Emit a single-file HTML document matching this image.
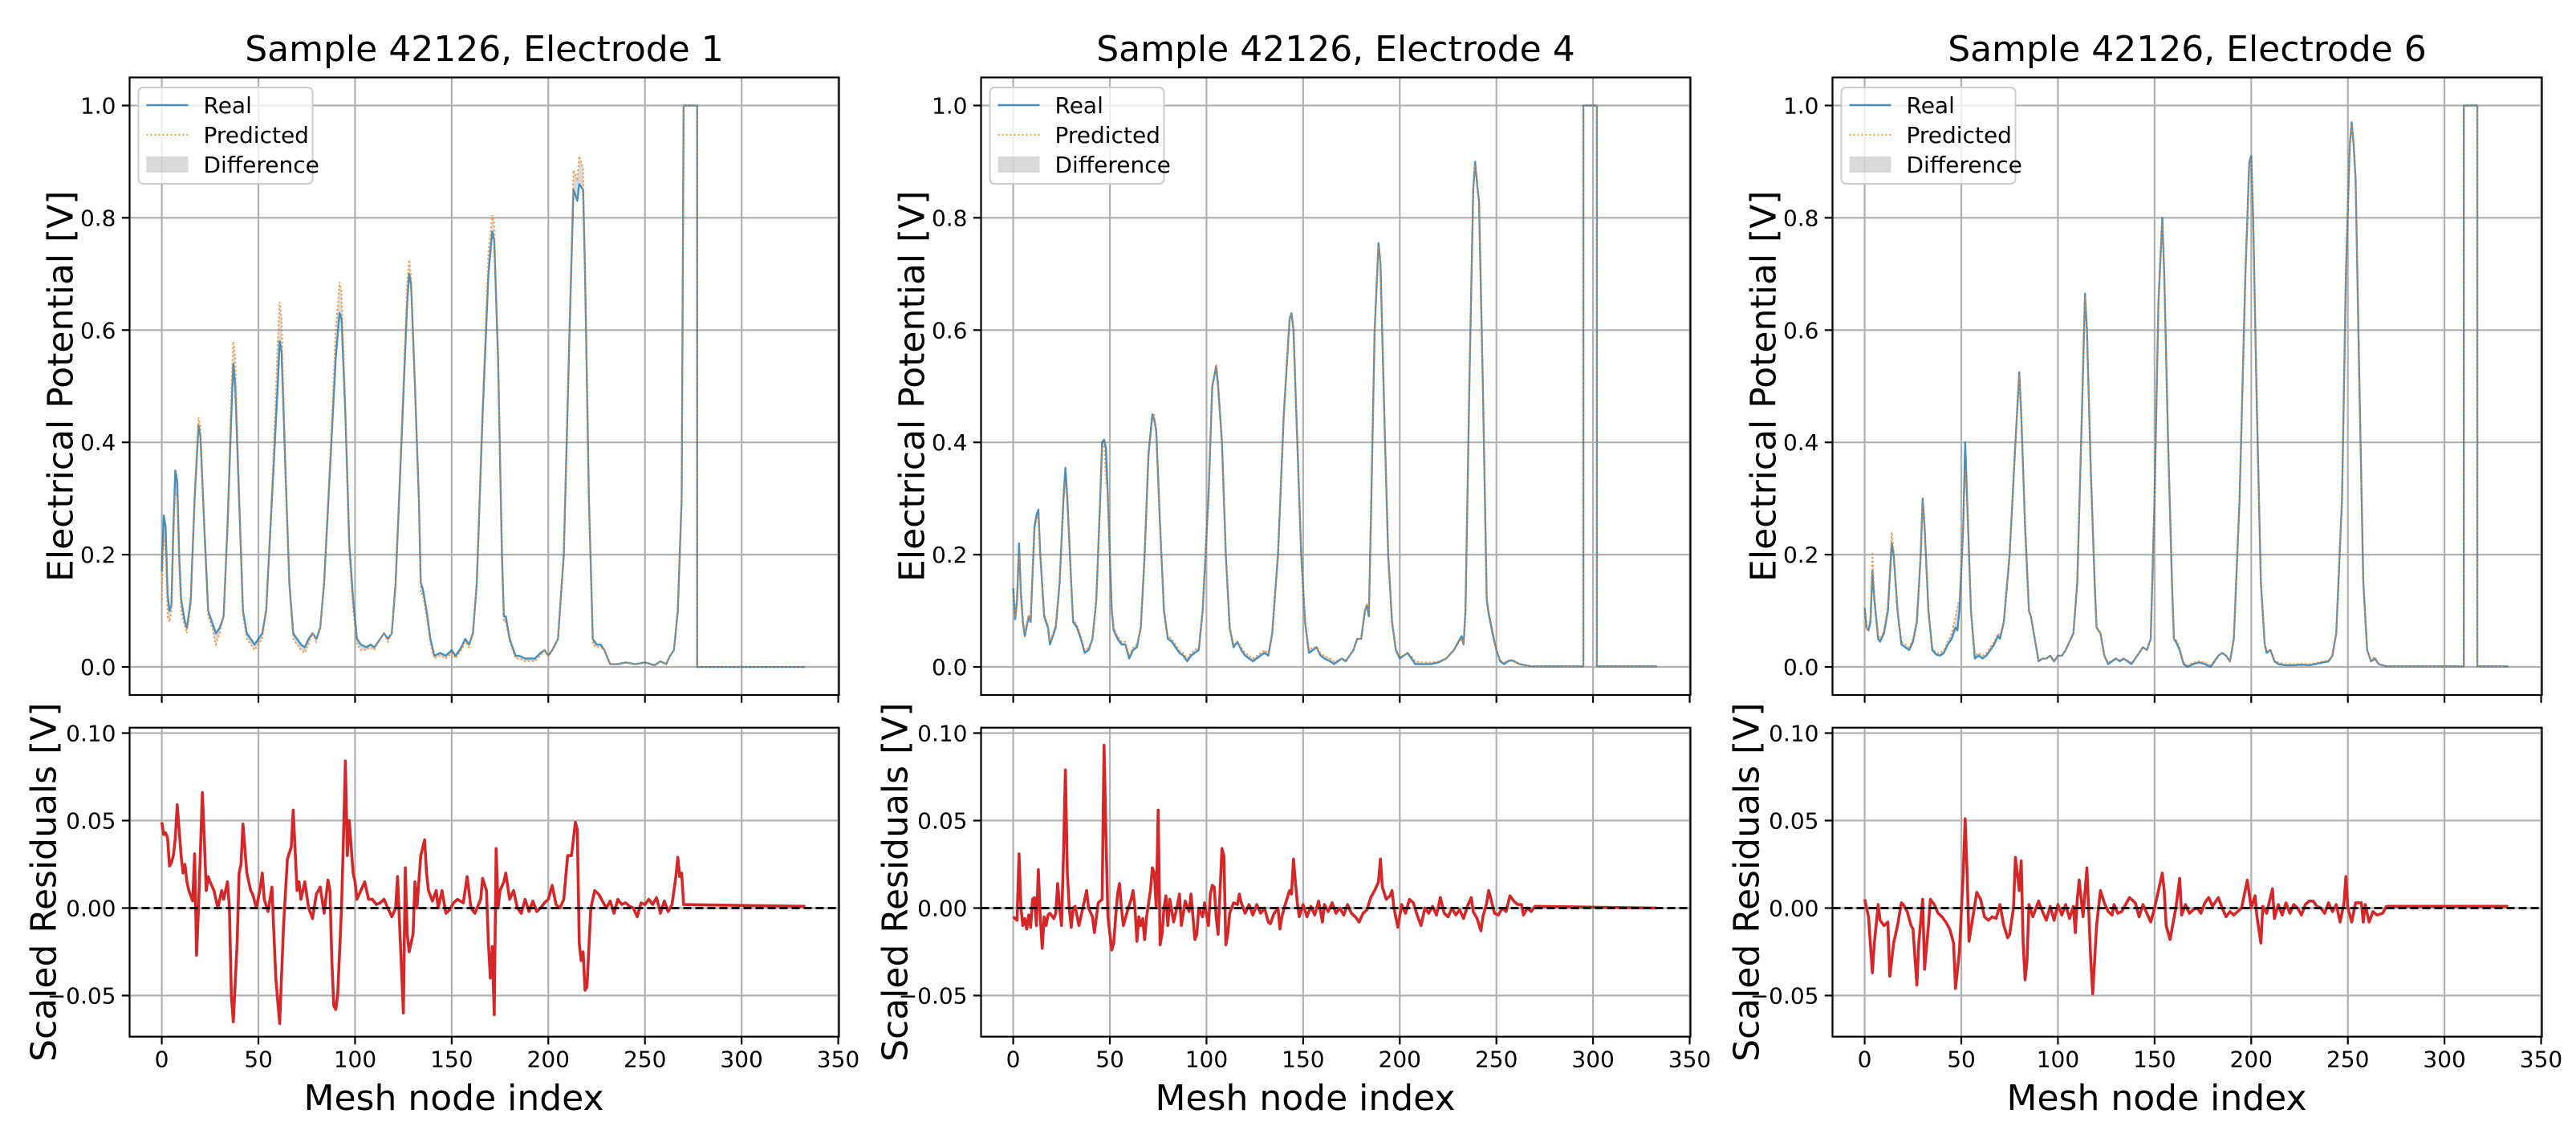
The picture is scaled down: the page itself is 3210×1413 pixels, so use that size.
<!DOCTYPE html>
<html>
<head>
<meta charset="utf-8">
<style>
html,body{margin:0;padding:0;background:#fff;}
svg{display:block;font-family:"DejaVu Sans","Liberation Sans",sans-serif;}
</style>
</head>
<body>
<svg id="fig" xmlns="http://www.w3.org/2000/svg" width="3210" height="1413" viewBox="0 0 3210 1413">
<rect x="0" y="0" width="3210" height="1413" fill="#fff"/>
</svg>
<script>
// ---------- data ----------
const panelTitles = ["Sample 42126, Electrode 1", "Sample 42126, Electrode 4", "Sample 42126, Electrode 6"];
const xTicks = [0, 50, 100, 150, 200, 250, 300, 350];
const yTicksTop = [0.0, 0.2, 0.4, 0.6, 0.8, 1.0];
const yTickLabelsTop = ["0.0", "0.2", "0.4", "0.6", "0.8", "1.0"];
const yTicksBot = [-0.05, 0.00, 0.05, 0.10];
const yTickLabelsBot = ["\u22120.05", "0.00", "0.05", "0.10"];

const e1Nodes = [0,1,2,3,4,5,6,7,8,9,10,12,13,15,17,19,20,22,24,26,28,30,32,34,36,37,38,40,42,44,46,48,50,52,54,57,60,61,62,64,66,68,70,72,74,76,78,80,82,84,87,90,92,93,95,97,99,101,103,106,108,110,113,115,117,119,121,124,127,128,129,131,133,134,135,137,139,141,144,147,150,152,155,157,159,161,163,166,169,171,172,174,176,177,178,180,183,185,188,190,193,196,198,200,202,205,208,211,213,215,216,218,219,221,223,225,227,229,232,236,240,245,250,255,258,261,263,265,267,269,270,277,277,333];
const e1Real = [.17,.27,.25,.13,.10,.11,.25,.35,.33,.20,.12,.08,.07,.12,.30,.43,.41,.25,.10,.08,.06,.07,.09,.25,.45,.54,.50,.30,.10,.06,.05,.04,.05,.06,.10,.30,.50,.58,.56,.35,.15,.06,.05,.04,.035,.05,.06,.05,.07,.15,.35,.55,.63,.62,.45,.22,.12,.05,.04,.035,.04,.035,.05,.06,.05,.06,.15,.40,.65,.70,.68,.50,.30,.15,.14,.10,.05,.02,.025,.02,.03,.02,.035,.05,.04,.06,.15,.45,.70,.775,.76,.55,.20,.09,.09,.05,.02,.02,.015,.015,.015,.025,.03,.02,.03,.05,.20,.60,.85,.83,.86,.85,.70,.30,.05,.04,.04,.03,.005,.005,.008,.005,.008,.003,.01,.005,.02,.03,.10,.30,1,1,0,0];
const e1Pred = [.12,.23,.20,.09,.08,.10,.22,.31,.30,.17,.10,.07,.06,.11,.31,.445,.43,.24,.09,.07,.04,.06,.09,.26,.50,.58,.55,.32,.09,.05,.04,.03,.04,.05,.10,.32,.58,.65,.62,.36,.14,.05,.04,.03,.025,.04,.06,.045,.07,.15,.37,.60,.685,.67,.47,.20,.10,.04,.03,.03,.035,.03,.05,.06,.045,.06,.15,.42,.69,.725,.70,.50,.30,.13,.13,.09,.04,.015,.02,.015,.025,.015,.03,.045,.035,.06,.15,.47,.74,.805,.79,.56,.18,.08,.08,.045,.015,.015,.01,.01,.01,.02,.03,.02,.03,.05,.20,.62,.885,.87,.91,.89,.72,.30,.04,.035,.035,.03,.005,.005,.008,.005,.008,.003,.01,.005,.02,.03,.10,.30,1,1,0,0];

const e4Nodes = [0,1,2,3,4,5,6,8,9,11,12,13,14,16,18,19,21,22,24,26,27,28,30,31,33,35,37,39,41,43,45,46,47,48,49,51,52,54,56,58,60,62,64,66,68,70,72,73,74,76,78,80,82,84,86,88,90,92,94,96,98,101,103,105,106,108,110,112,114,116,118,120,122,124,126,128,130,132,134,137,140,143,144,145,147,149,151,153,155,157,159,161,164,166,168,170,172,174,176,178,180,182,183,184,185,187,189,190,192,194,196,198,200,202,204,206,208,212,216,220,224,228,232,233,234,236,238,239,240,241,243,245,246,248,250,252,254,256,258,262,268,295,295,302,302,333];
const e4Real = [.14,.085,.12,.22,.13,.08,.055,.09,.08,.25,.27,.28,.2,.09,.07,.04,.06,.07,.15,.3,.355,.3,.15,.08,.07,.05,.025,.03,.05,.12,.3,.4,.405,.39,.3,.1,.065,.05,.04,.04,.015,.03,.035,.07,.2,.38,.45,.44,.42,.25,.1,.05,.045,.035,.025,.02,.01,.02,.025,.03,.1,.3,.5,.535,.5,.4,.2,.07,.035,.045,.03,.02,.015,.01,.015,.02,.025,.02,.06,.2,.45,.62,.63,.6,.4,.2,.08,.025,.03,.035,.02,.015,.01,.005,.01,.015,.01,.02,.03,.05,.05,.1,.11,.09,.25,.6,.755,.72,.45,.2,.08,.03,.015,.02,.025,.015,.005,.005,.005,.008,.015,.03,.055,.04,.1,.5,.85,.9,.86,.83,.5,.12,.095,.06,.03,.01,.005,.01,.012,.005,.001,.001,1,1,.001,.001];
const e4Pred = [.13,.09,.11,.2,.12,.08,.06,.09,.085,.24,.26,.27,.2,.095,.075,.045,.065,.075,.15,.29,.33,.29,.15,.085,.075,.055,.03,.035,.05,.12,.29,.39,.4,.33,.31,.1,.07,.055,.045,.045,.02,.035,.04,.07,.2,.37,.44,.45,.41,.25,.1,.055,.05,.04,.03,.025,.015,.025,.03,.035,.1,.3,.5,.54,.51,.4,.2,.07,.04,.045,.035,.025,.02,.015,.02,.025,.03,.025,.06,.2,.45,.62,.625,.6,.4,.2,.08,.03,.035,.035,.025,.02,.015,.01,.012,.015,.012,.02,.03,.05,.05,.1,.11,.095,.25,.6,.75,.72,.45,.2,.08,.03,.02,.02,.025,.02,.01,.008,.008,.01,.015,.03,.05,.04,.1,.5,.85,.895,.87,.83,.5,.12,.1,.065,.03,.012,.008,.012,.012,.005,.001,.001,1,1,.001,.001];

const e6Nodes = [0,1,2,3,4,5,7,8,10,12,14,15,17,19,21,23,25,27,29,30,31,33,35,37,39,41,43,45,47,48,49,51,52,53,55,57,59,61,63,65,67,69,70,72,75,78,80,81,83,85,86,88,90,92,94,96,98,100,102,104,106,108,110,112,114,115,117,119,120,122,124,126,128,130,132,134,136,138,140,142,144,146,148,150,152,154,155,157,159,160,161,163,165,167,170,173,176,179,181,183,185,187,189,191,194,197,199,200,201,203,205,207,208,210,212,214,218,222,226,230,233,237,240,242,244,247,249,251,252,253,254,256,258,260,262,264,266,270,310,310,317,317,333];
const e6Real = [.105,.07,.065,.08,.17,.12,.05,.045,.06,.1,.22,.2,.1,.04,.035,.03,.045,.08,.2,.3,.25,.1,.03,.022,.02,.025,.04,.05,.07,.065,.1,.25,.4,.3,.1,.015,.02,.015,.02,.03,.04,.055,.05,.08,.2,.4,.525,.45,.25,.1,.09,.05,.01,.015,.015,.02,.01,.02,.02,.03,.045,.06,.15,.4,.665,.6,.35,.15,.07,.06,.02,.005,.01,.015,.01,.015,.01,.005,.015,.025,.035,.03,.05,.3,.65,.8,.7,.4,.15,.05,.045,.03,.005,0,.005,.008,.005,0,.01,.02,.025,.02,.01,.05,.3,.7,.9,.91,.8,.45,.15,.04,.025,.03,.01,.005,.003,.003,.004,.003,.005,.008,.01,.02,.06,.3,.7,.93,.97,.93,.87,.5,.15,.03,.01,.015,.005,.001,.001,1,1,.001,.001];
const e6Pred = [.1,.065,.07,.09,.205,.13,.055,.05,.065,.11,.24,.21,.1,.045,.04,.035,.05,.085,.2,.29,.25,.1,.035,.025,.025,.03,.045,.06,.09,.11,.12,.25,.35,.3,.1,.02,.025,.02,.025,.035,.045,.06,.055,.08,.2,.4,.52,.45,.25,.1,.09,.05,.012,.015,.015,.02,.012,.02,.02,.03,.045,.06,.15,.4,.66,.6,.35,.15,.07,.06,.02,.008,.012,.015,.012,.015,.012,.008,.015,.025,.035,.03,.05,.3,.65,.79,.7,.4,.15,.05,.05,.035,.008,.003,.008,.01,.008,.003,.012,.02,.025,.02,.01,.05,.3,.7,.9,.905,.8,.45,.15,.04,.03,.03,.012,.008,.005,.005,.006,.005,.007,.01,.012,.02,.06,.3,.7,.93,.965,.93,.87,.5,.15,.03,.012,.018,.005,.001,.001,1,1,.001,.001];

const r1Nodes = [0,1,2,3,4,5,6,7,8,10,11,12,13,14,16,17,18,19,21,22,23,24,25,27,29,31,32,34,35,36,37,39,40,41,42,44,45,46,47,49,51,52,53,55,57,59,61,63,65,67,68,70,71,72,74,76,78,80,82,84,86,87,88,89,90,91,93,94,95,96,97,98,99,100,101,103,105,107,109,111,113,115,117,119,121,122,125,126,127,128,129,130,131,132,134,136,137,138,140,142,143,145,147,149,151,153,156,158,160,162,165,166,168,169,170,171,172,173,174,175,177,178,180,182,184,186,188,190,192,194,196,198,200,202,204,206,208,210,212,214,215,216,217,218,219,220,222,224,226,228,230,232,234,236,238,240,242,244,246,248,250,252,254,256,258,260,262,264,266,267,268,269,270,333];
const r1Vals = [.049,.042,.043,.04,.024,.026,.03,.04,.059,.03,.02,.025,.015,.01,.004,.031,-.027,0,.066,.04,.01,.018,.015,.01,0,.01,.005,.015,0,-.05,-.065,-.02,.02,.025,.048,.02,.015,.01,.008,0,.012,.02,.005,-.002,.012,-.04,-.066,-.01,.028,.035,.056,.01,.015,.005,.015,0,-.006,.008,.012,-.003,.016,.01,-.03,-.056,-.058,-.05,0,.04,.084,.03,.05,.035,.02,.015,.005,.01,.015,.005,.005,.002,.003,.005,0,-.005,0,.018,-.06,.023,-.015,-.025,-.02,-.015,.015,0,.03,.039,.02,.01,.004,.01,0,.01,-.003,-.001,.003,.005,.003,.018,0,-.003,.005,.017,.01,-.02,-.04,-.022,-.061,.034,0,.01,.015,.02,.005,.01,0,-.003,.005,-.002,.004,-.002,0,.003,.005,.013,.002,0,.005,.03,.03,.049,.045,-.02,-.03,-.025,-.047,-.045,0,.01,.008,.004,0,.004,-.003,.005,.002,.003,.001,0,-.005,.003,.002,.005,.002,.006,-.003,.004,-.002,.002,.018,.029,.018,.02,.002,.001];

const r4Nodes = [0,2,3,4,5,6,7,8,9,10,11,12,13,14,15,16,17,18,19,21,22,23,24,25,26,27,28,29,30,31,32,34,36,38,39,41,42,44,46,47,48,49,51,52,53,54,55,56,57,59,61,62,63,64,65,66,67,68,69,71,72,73,74,75,76,77,78,79,80,81,83,85,86,87,89,91,92,94,95,96,98,99,101,102,103,104,105,106,108,109,110,111,112,114,116,117,118,120,122,124,126,128,130,132,133,135,137,138,139,141,143,144,145,146,147,148,150,152,154,156,158,160,161,163,165,167,169,171,173,175,177,179,181,183,185,187,189,190,191,193,195,196,197,199,201,203,205,207,209,211,213,215,217,219,221,223,225,227,229,231,233,235,237,238,240,242,243,245,246,247,249,251,253,255,257,259,261,263,264,266,268,270,333];
const r4Vals = [-.005,-.007,.031,0,-.01,-.006,-.012,-.004,-.011,.005,.006,-.01,.022,-.005,-.023,-.005,-.01,-.004,-.003,-.006,-.003,.014,0,-.01,.03,.079,.02,0,-.011,0,.001,-.01,0,.01,0,-.005,-.014,.003,.005,.093,.04,-.005,-.024,-.02,-.005,.008,.014,0,-.01,-.002,.005,.01,0,-.019,-.005,-.01,-.006,-.018,-.005,.01,.023,.02,0,.056,-.021,-.015,0,.007,-.01,.005,-.008,.002,.008,-.01,.004,-.002,.008,-.018,-.015,0,-.005,.003,-.01,.008,.013,.012,-.005,-.015,.034,.03,-.021,-.015,-.003,.003,.002,.008,.003,-.003,.002,-.004,.002,-.003,0,-.008,-.009,-.003,0,-.012,-.005,.003,.01,.008,.028,.015,.003,-.005,.002,-.005,.001,-.004,.004,-.008,.002,-.002,.003,-.003,0,-.004,.002,-.003,-.005,-.008,-.003,-.001,.006,.01,.015,.028,.012,.005,.007,.01,0,-.011,.002,-.003,.005,.003,-.004,-.01,0,-.003,.001,-.004,.006,-.003,-.005,0,-.004,-.001,-.006,.001,.006,-.002,-.006,-.013,-.005,.003,.01,.006,-.003,-.004,0,-.002,.007,.004,.002,.002,-.004,0,-.002,.001,0];

const r6Nodes = [0,2,4,5,7,8,10,12,13,15,
17,19,20,22,24,25,27,28,30,31,
33,34,36,38,40,42,44,46,47,49,
51,52,53,54,56,58,60,62,64,66,
68,70,72,74,75,77,78,80,81,82,
83,84,85,87,90,92,94,96,98,100,
102,104,106,108,109,110,111,113,115,117,
118,120,122,124,126,128,129,131,133,135,
137,140,142,144,146,148,150,152,154,155,
156,158,159,161,163,164,166,168,170,172,
174,176,178,180,183,185,187,189,191,193,
195,198,200,202,203,205,206,208,211,212,
214,216,218,220,222,224,226,228,230,232,
234,236,238,240,242,244,246,248,249,250,
252,254,257,258,259,261,263,265,268,270,
333];
const r6Vals = [.005,-.005,-.037,-.02,.002,-.007,-.01,-.008,-.039,-.02,
-.01,.003,.002,-.002,-.01,-.012,-.044,-.02,.005,-.035,
-.01,.005,.002,-.003,-.005,-.008,-.012,-.02,-.046,-.025,
.02,.051,.02,-.019,-.005,.009,.005,-.005,-.007,-.005,
-.006,.002,-.01,-.017,-.015,0,.029,.01,.027,-.02,
-.041,-.03,.002,-.005,.004,-.002,-.007,.001,-.007,.002,
-.004,.002,-.006,.001,-.014,.005,.016,-.005,.023,-.03,
-.049,-.01,.01,.003,-.002,-.004,.002,-.003,-.002,.002,
.006,.003,-.005,.002,-.003,-.008,0,.01,.02,.01,
-.01,-.018,-.012,0,.017,-.004,.002,-.003,-.001,0,
-.003,.003,.006,.001,.006,0,-.005,-.002,-.004,-.002,
0,.016,0,.007,-.005,-.02,.001,-.003,.011,-.006,
.002,-.004,.003,-.003,.002,0,-.004,.002,.004,.004,
.001,0,-.003,.003,-.002,.002,-.008,.003,.018,0,
-.008,.003,.003,-.008,.002,-.008,-.002,-.004,-.003,.001,
.001];

// ---------- drawing ----------
const NS = "http://www.w3.org/2000/svg";
const svg = document.getElementById("fig");
function mk(tag, attrs, parent) {
  const el = document.createElementNS(NS, tag);
  for (const k in attrs) el.setAttribute(k, attrs[k]);
  (parent || svg).appendChild(el);
  return el;
}
const XMIN = -16.65, XMAX = 350.4;
const TOP = {y0: 96.5, h: 769.5, ymin: -0.05, ymax: 1.05};
const BOT = {y0: 906.7, h: 385, ymin: -0.0735, ymax: 0.1031};
const AXW = 884;

const panels = [
  {nodes: e1Nodes, real: e1Real, pred: e1Pred, rn: r1Nodes, rv: r1Vals},
  {nodes: e4Nodes, real: e4Real, pred: e4Pred, rn: r4Nodes, rv: r4Vals},
  {nodes: e6Nodes, real: e6Real, pred: e6Pred, rn: r6Nodes, rv: r6Vals}
];

panels.forEach((p, i) => {
  const x0 = 161.5 + 1061 * i;
  const sx = v => x0 + (v - XMIN) / (XMAX - XMIN) * AXW;
  const syT = v => TOP.y0 + (TOP.ymax - v) / (TOP.ymax - TOP.ymin) * TOP.h;
  const syB = v => BOT.y0 + (BOT.ymax - v) / (BOT.ymax - BOT.ymin) * BOT.h;

  const g = mk("g", {});
  
  

  const t = mk("text", {x: x0 + AXW / 2, y: 76, "text-anchor": "middle", "font-size": 44, fill: "#000"}, g);
  t.textContent = panelTitles[i];
  
  

  // ---- top axes ----
  const top = mk("g", {}, g);
  
  
  const clipT = mk("clipPath", {id: "ct" + i}, top);
  mk("rect", {x: x0, y: TOP.y0, width: AXW, height: TOP.h}, clipT);
  xTicks.forEach(v => {
    const gl = mk("line", {x1: sx(v), x2: sx(v), y1: TOP.y0, y2: TOP.y0 + TOP.h, stroke: "#b0b0b0", "stroke-width": 2.2}, top);
    
    
    mk("line", {x1: sx(v), x2: sx(v), y1: TOP.y0 + TOP.h, y2: TOP.y0 + TOP.h + 9.7, stroke: "#000", "stroke-width": 2.2}, top);
  });
  yTicksTop.forEach((v, k) => {
    const gl = mk("line", {x1: x0, x2: x0 + AXW, y1: syT(v), y2: syT(v), stroke: "#b0b0b0", "stroke-width": 2.2}, top);
    
    
    mk("line", {x1: x0 - 9.7, x2: x0, y1: syT(v), y2: syT(v), stroke: "#000", "stroke-width": 2.2}, top);
    const tl = mk("text", {x: x0 - 17, y: syT(v) + 10, "text-anchor": "end", "font-size": 28, fill: "#000"}, top);
    tl.textContent = yTickLabelsTop[k];
    
    
  });
  const n = Math.min(p.nodes.length, p.real.length, p.pred.length);
  let fillPts = [];
  for (let k = 0; k < n; k++) fillPts.push(sx(p.nodes[k]) + "," + syT(p.real[k]));
  for (let k = n - 1; k >= 0; k--) fillPts.push(sx(p.nodes[k]) + "," + syT(p.pred[k]));
  const fl = mk("polygon", {points: fillPts.join(" "), fill: "#808080", "fill-opacity": 0.3, "clip-path": "url(#ct" + i + ")"}, top);
  
  
  let rp = [], pp = [];
  for (let k = 0; k < n; k++) { rp.push(sx(p.nodes[k]) + "," + syT(p.real[k])); pp.push(sx(p.nodes[k]) + "," + syT(p.pred[k])); }
  const rl = mk("polyline", {points: rp.join(" "), fill: "none", stroke: "#1f77b4", "stroke-width": 2.4, "stroke-opacity": 0.8, "stroke-linejoin": "round", "clip-path": "url(#ct" + i + ")"}, top);
  
  
  const pl = mk("polyline", {points: pp.join(" "), fill: "none", stroke: "#ff7f0e", "stroke-width": 2, "stroke-opacity": 0.8, "stroke-dasharray": "2,3", "clip-path": "url(#ct" + i + ")"}, top);
  
  
  mk("rect", {x: x0, y: TOP.y0, width: AXW, height: TOP.h, fill: "none", stroke: "#000", "stroke-width": 2.2}, top);

  // legend
  const lg = mk("g", {}, top);
  
  
  const lx = x0 + 11;
  mk("rect", {x: lx, y: 109, width: 217, height: 120, rx: 6, fill: "#fff", "fill-opacity": 0.8, stroke: "#cccccc", "stroke-width": 2}, lg);
  mk("line", {x1: lx + 10, x2: lx + 62, y1: 131, y2: 131, stroke: "#1f77b4", "stroke-width": 2.4, "stroke-opacity": 0.8}, lg);
  mk("line", {x1: lx + 10, x2: lx + 62, y1: 168, y2: 168, stroke: "#ff7f0e", "stroke-width": 2, "stroke-opacity": 0.8, "stroke-dasharray": "2,3"}, lg);
  mk("rect", {x: lx + 10, y: 195, width: 52, height: 20, fill: "#808080", "fill-opacity": 0.3}, lg);
  [["Real", 131, "legend-entry-real"], ["Predicted", 168, "legend-entry-predicted"], ["Difference", 205, "legend-entry-difference"]].forEach(e => {
    const lt = mk("text", {x: lx + 81, y: e[1] + 10, "font-size": 28, fill: "#000"}, lg);
    lt.textContent = e[0];
    
    
  });

  const yl = mk("text", {transform: "translate(" + (x0 - 71) + "," + (TOP.y0 + TOP.h / 2) + ") rotate(-90)", "text-anchor": "middle", "font-size": 44, fill: "#000"}, g);
  yl.textContent = "Electrical Potential [V]";
  
  

  // ---- bottom axes ----
  const bot = mk("g", {}, g);
  
  
  const clipB = mk("clipPath", {id: "cb" + i}, bot);
  mk("rect", {x: x0, y: BOT.y0, width: AXW, height: BOT.h}, clipB);
  xTicks.forEach(v => {
    const gl = mk("line", {x1: sx(v), x2: sx(v), y1: BOT.y0, y2: BOT.y0 + BOT.h, stroke: "#b0b0b0", "stroke-width": 2.2}, bot);
    
    
    mk("line", {x1: sx(v), x2: sx(v), y1: BOT.y0 + BOT.h, y2: BOT.y0 + BOT.h + 9.7, stroke: "#000", "stroke-width": 2.2}, bot);
    const tl = mk("text", {x: sx(v), y: BOT.y0 + BOT.h + 38, "text-anchor": "middle", "font-size": 28, fill: "#000"}, bot);
    tl.textContent = String(v);
    
    
  });
  yTicksBot.forEach((v, k) => {
    const gl = mk("line", {x1: x0, x2: x0 + AXW, y1: syB(v), y2: syB(v), stroke: "#b0b0b0", "stroke-width": 2.2}, bot);
    
    
    mk("line", {x1: x0 - 9.7, x2: x0, y1: syB(v), y2: syB(v), stroke: "#000", "stroke-width": 2.2}, bot);
    const tl = mk("text", {x: x0 - 17, y: syB(v) + 10, "text-anchor": "end", "font-size": 28, fill: "#000"}, bot);
    tl.textContent = yTickLabelsBot[k];
    
    
  });
  const rn = Math.min(p.rn.length, p.rv.length);
  let resPts = [];
  for (let k = 0; k < rn; k++) resPts.push(sx(p.rn[k]) + "," + syB(p.rv[k]));
  const resl = mk("polyline", {points: resPts.join(" "), fill: "none", stroke: "#d62728", "stroke-width": 3.6, "stroke-linejoin": "round", "clip-path": "url(#cb" + i + ")"}, bot);
  
  
  const zl = mk("line", {x1: x0, x2: x0 + AXW, y1: syB(0), y2: syB(0), stroke: "#000", "stroke-width": 2.8, "stroke-dasharray": "10,5"}, bot);
  
  
  mk("rect", {x: x0, y: BOT.y0, width: AXW, height: BOT.h, fill: "none", stroke: "#000", "stroke-width": 2.2}, bot);

  const yl2 = mk("text", {transform: "translate(" + (x0 - 92) + "," + (BOT.y0 + BOT.h / 2) + ") rotate(-90)", "text-anchor": "middle", "font-size": 44, fill: "#000"}, g);
  yl2.textContent = "Scaled Residuals [V]";
  
  

  const xl = mk("text", {x: x0 + AXW / 2 - 38, y: 1383, "text-anchor": "middle", "font-size": 44, fill: "#000"}, g);
  xl.textContent = "Mesh node index";
  
  
});
</script>
</body>
</html>
